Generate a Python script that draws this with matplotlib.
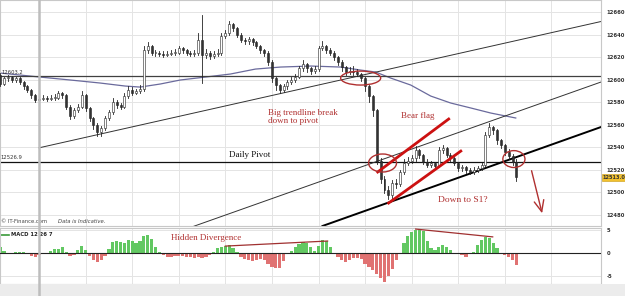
import matplotlib.pyplot as plt
from matplotlib.patches import Ellipse, Rectangle
from matplotlib.lines import Line2D

# 10-minute bars, time in hours from 00:00 on the 26th (first bar 22:20 previous day)
closes = [12596, 12601, 12602, 12600, 12601, 12598, 12594, 12591, 12586, 12582,
          12583, 12584, 12583, 12584, 12584, 12588, 12586, 12576, 12568, 12573,
          12576, 12586, 12575, 12566, 12560, 12553, 12557, 12566, 12571, 12580,
          12577, 12576, 12585, 12591, 12588, 12590, 12592, 12626, 12630, 12624,
          12624, 12623, 12622, 12623, 12624, 12624, 12628, 12626, 12624, 12623,
          12624, 12635, 12622, 12624, 12621, 12623, 12624, 12639, 12641, 12649,
          12646, 12640, 12635, 12634, 12636, 12633, 12630, 12626, 12624, 12616,
          12601, 12595, 12591, 12594, 12598, 12600, 12602, 12610, 12614, 12610,
          12608, 12609, 12628, 12630, 12626, 12624, 12620, 12616, 12611, 12607,
          12608, 12607, 12605, 12601, 12594, 12585, 12573, 12528, 12512, 12502,
          12497, 12508, 12507, 12518, 12526, 12528, 12530, 12537, 12533, 12527,
          12524, 12526, 12523, 12537, 12539, 12533, 12530, 12526, 12521, 12522,
          12520, 12518, 12520, 12521, 12524, 12551, 12558, 12555, 12546, 12542,
          12536, 12532, 12527, 12513]
highs = [12606, 12602, 12604, 12603, 12602, 12602, 12599, 12595, 12592, 12587,
         12585, 12586, 12585, 12586, 12587, 12590, 12589, 12587, 12577, 12575,
         12578, 12590, 12587, 12576, 12567, 12561, 12559, 12568, 12573, 12584,
         12582, 12579, 12588, 12594, 12593, 12592, 12595, 12630, 12633, 12631,
         12626, 12625, 12625, 12625, 12626, 12627, 12630, 12629, 12627, 12625,
         12626, 12641, 12657, 12627, 12625, 12625, 12627, 12641, 12644, 12652,
         12650, 12647, 12641, 12637, 12638, 12637, 12634, 12631, 12627, 12625,
         12617, 12602, 12596, 12596, 12600, 12602, 12605, 12612, 12617, 12615,
         12611, 12612, 12630, 12634, 12631, 12628, 12625, 12621, 12617, 12612,
         12611, 12612, 12609, 12606, 12602, 12595, 12586, 12574, 12530, 12514,
         12505, 12511, 12512, 12520, 12529, 12531, 12533, 12541, 12538, 12534,
         12529, 12528, 12527, 12540, 12542, 12540, 12535, 12531, 12527, 12524,
         12523, 12521, 12522, 12523, 12526, 12553, 12561, 12559, 12556, 12547,
         12543, 12538, 12534, 12529]
lows = [12594, 12595, 12599, 12598, 12598, 12596, 12592, 12589, 12584, 12580,
        12580, 12582, 12581, 12582, 12582, 12583, 12584, 12574, 12565, 12566,
        12571, 12575, 12572, 12563, 12556, 12550, 12550, 12555, 12564, 12569,
        12575, 12574, 12575, 12584, 12586, 12587, 12588, 12590, 12624, 12622,
        12621, 12621, 12620, 12621, 12622, 12622, 12623, 12624, 12622, 12621,
        12621, 12622, 12597, 12619, 12618, 12619, 12621, 12622, 12637, 12640,
        12643, 12638, 12633, 12632, 12632, 12631, 12628, 12624, 12621, 12613,
        12598, 12591, 12588, 12589, 12592, 12596, 12598, 12601, 12608, 12607,
        12605, 12606, 12608, 12626, 12624, 12622, 12617, 12613, 12608, 12604,
        12605, 12604, 12603, 12599, 12590, 12580, 12568, 12525, 12508, 12499,
        12494, 12495, 12504, 12505, 12516, 12524, 12526, 12528, 12530, 12525,
        12522, 12522, 12521, 12522, 12535, 12531, 12528, 12524, 12519, 12519,
        12517, 12516, 12516, 12518, 12520, 12523, 12549, 12552, 12543, 12539,
        12533, 12529, 12524, 12510]
first_open = 12604

macd_hist = [1.2, 0.4, 0.1, 0.0, 0.3, 0.3, 0.2, -0.3, -0.7, -0.8,
             -0.5, -0.1, 0.0, 0.5, 0.8, 0.9, 1.3, 0.3, -0.6, -0.4,
             0.6, 1.6, 0.6, -0.6, -1.5, -1.9, -1.6, -0.6, 0.8, 2.4,
             2.6, 2.4, 2.2, 2.8, 2.5, 2.1, 2.6, 3.6, 3.9, 3.0,
             1.3, 0.2, -0.5, -0.8, -0.8, -0.7, -0.6, -0.7, -0.9, -0.9,
             -1.0, -0.8, -1.0, -0.8, -0.5, 0.3, 1.0, 1.3, 1.6, 1.8,
             1.0, 0.2, -0.8, -1.2, -1.5, -1.7, -1.6, -1.3, -1.6, -2.4,
             -3.0, -3.3, -3.2, -1.8, -0.3, 0.4, 1.4, 2.0, 2.4, 2.2,
             1.2, 0.5, 1.6, 2.8, 2.6, 1.4, 0.1, -0.9, -1.5, -1.9,
             -1.6, -1.1, -1.0, -1.4, -2.4, -3.0, -3.8, -4.6, -5.4, -6.2,
             -5.0, -3.4, -1.5, -0.3, 2.2, 3.6, 4.5, 5.0, 5.3, 4.8,
             2.6, 1.1, 0.7, 1.4, 1.7, 1.3, 0.6, 0.1, -0.2, -0.5,
             -0.8, -0.3, 0.3, 1.8, 2.9, 3.5, 3.2, 2.2, 1.0, 0.0,
             -0.5, -0.8, -1.5, -2.6]

# moving average (hour, price)
ma_t = [-1.68, -0.82, 0.04, 1.33, 2.62, 3.70, 4.34, 5.20, 6.07, 7.14, 8.22, 9.29,
        10.37, 11.66, 12.95, 13.81, 14.45, 15.10, 15.96, 16.82, 17.68, 18.54, 19.40, 20.47]
ma_p = [12605.8, 12604.0, 12602.2, 12599.6, 12596.9, 12594.2, 12593.3, 12596.0,
        12599.6, 12602.2, 12604.9, 12609.3, 12611.1, 12612.0, 12611.1, 12608.4,
        12606.7, 12601.3, 12595.1, 12585.3, 12579.1, 12574.7, 12570.2, 12565.8]

prev_high = 12603.2
pivot = 12526.9
last_price = 12513.0

# drawn trendlines (hour, price)
upper_tl = ([0.0, 24.2], [12539.3, 12651.9])
mid_tl = ([6.5, 24.2], [12468.5, 12598.3])
low_tl = ([12.17, 24.2], [12469.8, 12558.3])
flag_top = ([14.54, 17.59], [12517.8, 12564.9])
flag_bot = ([15.01, 18.11], [12490.2, 12536.4])
div1 = ([8.0, 12.39], [1.5, 2.6])
div2 = ([16.17, 19.48], [5.2, 3.5])

price_ticks = [12480, 12500, 12520, 12540, 12560, 12580, 12600, 12620, 12640, 12660]
hour_ticks = [0, 2, 4, 6, 8, 10, 12, 14, 16, 18, 20, 22]
hour_labels = ['26', '02:00', '04:00', '06:00', '08:00', '10:00', '12:00',
               '14:00', '16:00', '18:00', '20:00', '22:00']

times = [-5 / 3 + i / 6 for i in range(len(closes))]
opens = [first_open] + closes[:-1]

W, H = 625, 296
fig = plt.figure(figsize=(6.25, 2.96), dpi=100)
fig.patches.append(Rectangle((0, 0), 1, 12 / H, transform=fig.transFigure,
                             facecolor='#ececec', edgecolor='none', zorder=0))

ax = fig.add_axes([0, 1 - 226 / H, 601 / W, 226 / H])
ax2 = fig.add_axes([0, 1 - 284 / H, 601 / W, 56 / H], sharex=ax)

red = '#b03030'
serif = 'Liberation Serif'

# --- price panel ---
ax.set_xlim(-1.677, 24.13)
ax.set_ylim(12469.8, 12670.7)
ax.set_yticks(price_ticks)
ax.yaxis.tick_right()
ax.tick_params(axis='y', length=0, pad=4, labelsize=3.8, labelcolor='#333333')
for lab in ax.get_yticklabels():
    lab.set_fontweight('bold')
ax.tick_params(axis='x', length=0, labelbottom=False)
ax.set_xticks(hour_ticks)
ax.grid(True, color='#e4e4e4', lw=0.7)
ax.set_axisbelow(True)
for s in ax.spines.values():
    s.set_color('#c8c8c8')
    s.set_linewidth(0.8)

bw = 0.085
for t, o, c, h, l in zip(times, opens, closes, highs, lows):
    ax.plot([t, t], [l, h], color='#222222', lw=0.6, zorder=3)
    lo, hi = min(o, c), max(o, c)
    fc = '#ffffff' if c >= o else '#333333'
    ax.add_patch(Rectangle((t - bw / 2, lo), bw, max(hi - lo, 0.4), facecolor=fc,
                           edgecolor='#222222', lw=0.4, zorder=4))

ax.plot(ma_t, ma_p, color='#6a6a9c', lw=0.9, zorder=2)
ax.axhline(prev_high, color='#404040', lw=0.9, zorder=2)
ax.axhline(pivot, color='#111111', lw=0.9, zorder=2)
ax.plot(*upper_tl, color='#333333', lw=0.7, zorder=2)
ax.plot(*mid_tl, color='#333333', lw=0.7, zorder=2)
ax.plot(*low_tl, color='#000000', lw=1.4, zorder=2)
ax.plot(*flag_top, color='#cc1111', lw=2.0, zorder=5)
ax.plot(*flag_bot, color='#cc1111', lw=2.0, zorder=5)

for (cx, cy, ew, eh) in [(13.81, 12601.3, 1.72, 12.4), (14.75, 12525.8, 1.2, 16.0),
                         (20.39, 12529.3, 0.95, 15.0)]:
    ax.add_patch(Ellipse((cx, cy), ew, eh, facecolor='none', edgecolor=red, lw=1.0, zorder=6))

ax.annotate('', xy=(21.63, 12478.7), xytext=(21.12, 12521.3),
            arrowprops=dict(arrowstyle='->,head_length=0.8,head_width=0.35',
                            color=red, lw=1.0))

ax.text(9.85, 12573.5, 'Big trendline break\ndown to pivot', family=serif, fontsize=6.5,
        color=red, va='top', ha='left', linespacing=1.0)
ax.text(15.53, 12567.6, 'Bear flag', family=serif, fontsize=6.5, color=red, va='center')
ax.text(17.12, 12492.9, 'Down to S1?', family=serif, fontsize=6.8, color=red, va='center')
ax.text(8.17, 12532.9, 'Daily Pivot', family=serif, fontsize=6.5, color='#111111', va='center')

ax.text(-1.6, prev_high + 1.2, '12603.2', fontsize=3.8, color='#333333', va='bottom')
ax.text(-1.67, pivot + 1.2, '12526.9', fontsize=3.8, color='#333333', va='bottom')
ax.text(-1.62, 12472, '\u00a9 IT-Finance.com', fontsize=3.8, color='#444444', va='bottom')
ax.text(0.8, 12472, 'Data is Indicative.', fontsize=3.8, color='#444444', va='bottom',
        style='italic')

ax.text(1.003, last_price, '%.1f' % last_price, transform=ax.get_yaxis_transform(),
        fontsize=3.6, fontweight='bold', color='#333333', va='center', ha='left',
        bbox=dict(boxstyle='square,pad=0.12', facecolor='#f2c12e', edgecolor='#c89a10', lw=0.4))

# --- MACD panel ---
ax2.set_ylim(-6.74, 5.43)
ax2.set_yticks([-5, 0, 5])
ax2.set_yticklabels(['-5', '0', '5'])
ax2.yaxis.tick_right()
ax2.tick_params(axis='y', length=0, pad=4, labelsize=3.8, labelcolor='#333333')
for lab in ax2.get_yticklabels():
    lab.set_fontweight('bold')
ax2.set_xticks(hour_ticks)
ax2.set_xticklabels(hour_labels)
ax2.tick_params(axis='x', length=0, pad=3, labelsize=4.5, labelcolor='#444444')
ax2.get_xticklabels()[0].set_fontweight('bold')
ax2.grid(True, color='#e4e4e4', lw=0.7)
ax2.set_axisbelow(True)
for s in ax2.spines.values():
    s.set_color('#c8c8c8')
    s.set_linewidth(0.8)

colors = ['#62c862' if v >= 0 else '#e07272' for v in macd_hist]
ax2.bar(times, macd_hist, width=0.14, color=colors, edgecolor='none', zorder=2)
ax2.axhline(0, color='#222222', lw=0.8, zorder=3)
ax2.plot(*div1, color='#a03030', lw=0.9, zorder=4)
ax2.plot(*div2, color='#a03030', lw=0.9, zorder=4)
ax2.text(5.68, 3.3, 'Hidden Divergence', family=serif, fontsize=6.5, color=red, va='center')

ax2.plot([-1.62, -1.3], [4.0, 4.0], color='#3a9a3a', lw=1.2)
ax2.text(-1.2, 4.0, 'MACD 12 26 7', fontsize=3.8, fontweight='bold', color='#222222',
         va='center')

# day separator through both panels
fig.add_artist(Line2D([39 / W, 39 / W], [0, 1], transform=fig.transFigure,
                      color='#bdbdbd', lw=1.8, zorder=1))

fig.savefig('out.png', dpi=100)
